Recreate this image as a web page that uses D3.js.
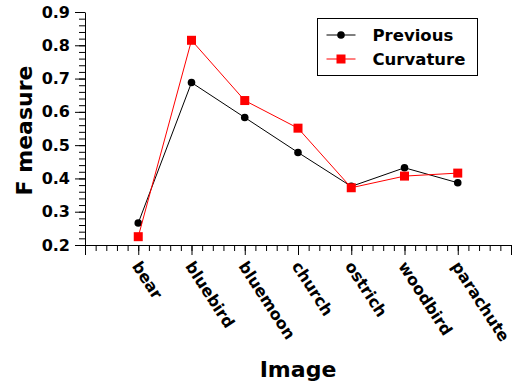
<!DOCTYPE html>
<html>
<head>
<meta charset="utf-8">
<script src="https://cdn.jsdelivr.net/npm/d3@7"></script>
<style>
  body { margin: 0; background: #fff; }
  svg { display: block; font-family: "DejaVu Sans", Verdana, sans-serif; }
  .axis text { font-weight: bold; fill: #000; }
</style>
</head>
<body>
<div id="chart"></div>
<script>
// chart data
const images = ['bear', 'bluebird', 'bluemoon', 'church', 'ostrich', 'woodbird', 'parachute'];
const previous = [0.266, 0.688, 0.583, 0.478, 0.376, 0.432, 0.387];
const curvature = [0.225, 0.815, 0.634, 0.551, 0.372, 0.407, 0.416];
const yTicks = [0.2, 0.3, 0.4, 0.5, 0.6, 0.7, 0.8, 0.9];
const seriesNames = ['Previous', 'Curvature'];

const width = 520, height = 385;

const svg = d3.select('#chart').append('svg')
  .attr('width', width)
  .attr('height', height);

// category positions sit at 1..7, axis runs 0..8
const x = d3.scaleLinear().domain([0, images.length + 1]).range([85, 511]);
const y = d3.scaleLinear().domain([0.2, 0.9]).range([245, 12]);

// minor ticks first so majors draw over them
svg.append('g')
  .attr('transform', 'translate(85,0)')
  .call(d3.axisLeft(y).tickValues(d3.range(0, 36).map(i => 0.2 + i * 0.02)).tickSize(6).tickFormat(''))
  .call(g => g.select('.domain').remove());

svg.append('g')
  .attr('class', 'axis')
  .attr('transform', 'translate(85,0)')
  .call(d3.axisLeft(y).tickValues(yTicks).tickSize(10).tickSizeOuter(0).tickPadding(5).tickFormat(d3.format('.1f')))
  .call(g => g.selectAll('text').attr('font-size', 16).attr('font-family', 'DejaVu Sans'));

svg.append('g')
  .attr('transform', 'translate(0,245)')
  .call(d3.axisBottom(x).tickValues(d3.range(0, 41).map(i => i / 5)).tickSize(6).tickFormat(''))
  .call(g => g.select('.domain').remove());

svg.append('g')
  .attr('transform', 'translate(0,245)')
  .call(d3.axisBottom(x).tickValues(d3.range(0, images.length + 2)).tickSize(10).tickSizeOuter(0).tickFormat(''));

svg.selectAll('path.domain, .tick line').attr('stroke', '#000');

// rotated category labels
svg.append('g')
  .attr('class', 'axis')
  .selectAll('text')
  .data(images)
  .enter()
  .append('text')
  .attr('transform', (d, i) => `translate(${x(i + 1) - 2},263) rotate(57)`)
  .attr('dy', '0.35em')
  .attr('font-size', 16)
  .attr('font-weight', 'bold')
  .text(d => d);

// axis titles
svg.append('text')
  .attr('transform', `translate(32,${(y(0.2) + y(0.9)) / 2 + 2}) rotate(-90)`)
  .attr('text-anchor', 'middle')
  .attr('font-size', 22)
  .attr('font-weight', 'bold')
  .text('F measure');

svg.append('text')
  .attr('x', (x.range()[0] + x.range()[1]) / 2)
  .attr('y', 377)
  .attr('text-anchor', 'middle')
  .attr('font-size', 22)
  .attr('font-weight', 'bold')
  .text('Image');

const line = d3.line()
  .x((d, i) => x(i + 1))
  .y(d => y(d));

// Previous series
svg.append('path')
  .datum(previous)
  .attr('fill', 'none')
  .attr('stroke', '#000')
  .attr('stroke-width', 1)
  .attr('d', line);

svg.selectAll('.pt-prev')
  .data(previous)
  .enter()
  .append('circle')
  .attr('class', 'pt-prev')
  .attr('cx', (d, i) => x(i + 1))
  .attr('cy', d => y(d))
  .attr('r', 3.8)
  .attr('fill', '#000');

// Curvature series
svg.append('path')
  .datum(curvature)
  .attr('fill', 'none')
  .attr('stroke', '#ff0000')
  .attr('stroke-width', 1)
  .attr('d', line);

svg.selectAll('.pt-curv')
  .data(curvature)
  .enter()
  .append('rect')
  .attr('class', 'pt-curv')
  .attr('x', (d, i) => x(i + 1) - 4.5)
  .attr('y', d => y(d) - 4.5)
  .attr('width', 9)
  .attr('height', 9)
  .attr('fill', '#ff0000');

// legend
const legend = svg.append('g').attr('transform', 'translate(317.5,18.5)');

legend.append('rect')
  .attr('width', 160)
  .attr('height', 57)
  .attr('fill', '#fff')
  .attr('stroke', '#000')
  .attr('stroke-width', 1);

const rows = legend.selectAll('.legend-row')
  .data(seriesNames)
  .enter()
  .append('g')
  .attr('class', 'legend-row')
  .attr('transform', (d, i) => `translate(0,${16.5 + i * 24})`);

rows.append('line')
  .attr('x1', 9)
  .attr('x2', 38)
  .attr('stroke', (d, i) => i === 0 ? '#000' : '#ff0000')
  .attr('stroke-width', 1);

rows.filter((d, i) => i === 0).append('circle')
  .attr('cx', 23.5)
  .attr('r', 3.8)
  .attr('fill', '#000');

rows.filter((d, i) => i === 1).append('rect')
  .attr('x', 19)
  .attr('y', -4.5)
  .attr('width', 9)
  .attr('height', 9)
  .attr('fill', '#ff0000');

rows.append('text')
  .attr('x', 55)
  .attr('dy', '0.35em')
  .attr('font-size', 16.5)
  .attr('font-weight', 'bold')
  .text(d => d);
</script>
</body>
</html>
